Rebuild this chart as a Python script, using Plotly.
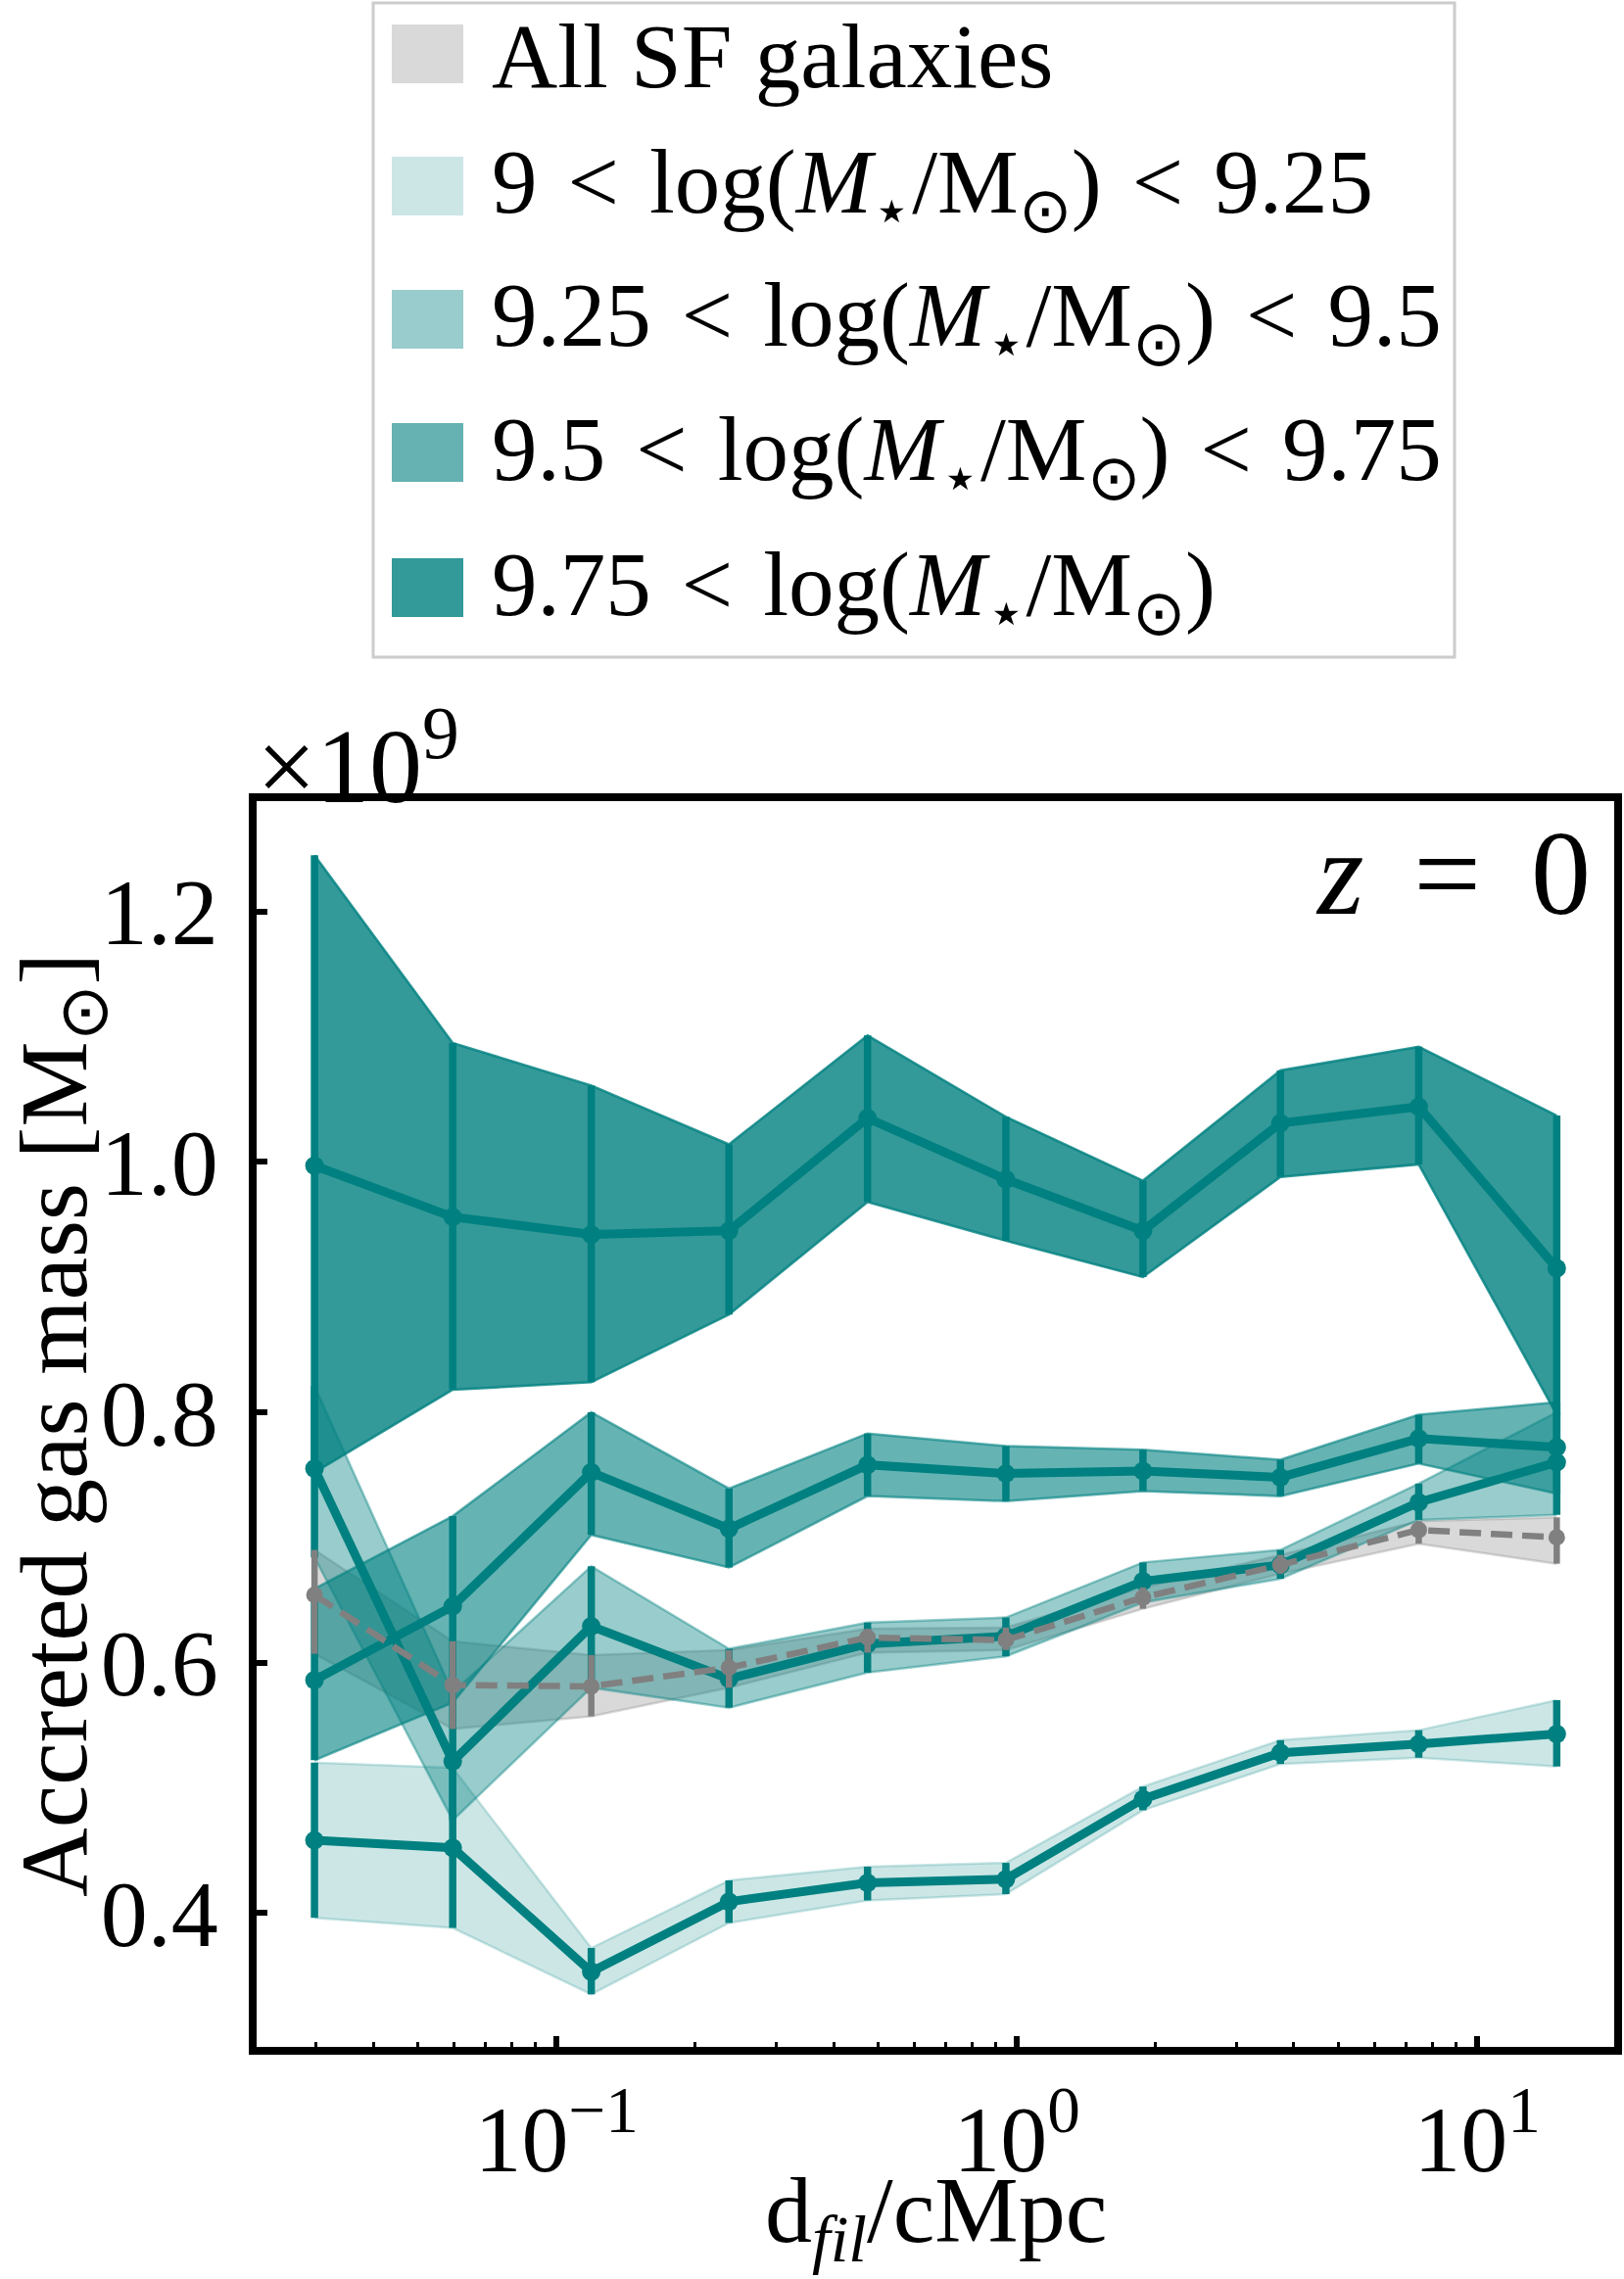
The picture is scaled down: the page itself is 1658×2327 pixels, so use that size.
import plotly.graph_objects as go

# ---------------- data ----------------
d_fil = [0.0298, 0.0595, 0.119, 0.237, 0.474, 0.947, 1.88, 3.74, 7.47, 14.9]

all_med = [0.654, 0.582, 0.581, 0.596, 0.620, 0.618, 0.652, 0.678, 0.706, 0.700]
all_up  = [0.690, 0.617, 0.606, 0.610, 0.627, 0.628, 0.660, 0.686, 0.713, 0.716]
all_lo  = [0.607, 0.547, 0.557, 0.580, 0.608, 0.610, 0.643, 0.671, 0.695, 0.679]

m900_med = [0.458, 0.452, 0.353, 0.409, 0.424, 0.427, 0.491, 0.528, 0.535, 0.543]
m900_up  = [0.520, 0.516, 0.372, 0.426, 0.437, 0.440, 0.501, 0.538, 0.546, 0.570]
m900_lo  = [0.396, 0.388, 0.335, 0.392, 0.410, 0.415, 0.482, 0.519, 0.524, 0.517]

m925_med = [0.755, 0.521, 0.629, 0.587, 0.615, 0.621, 0.665, 0.678, 0.728, 0.760]
m925_up  = [0.821, 0.576, 0.677, 0.611, 0.632, 0.636, 0.680, 0.690, 0.743, 0.800]
m925_lo  = [0.684, 0.474, 0.580, 0.564, 0.592, 0.605, 0.648, 0.667, 0.714, 0.718]

m950_med = [0.586, 0.645, 0.752, 0.707, 0.758, 0.751, 0.753, 0.748, 0.779, 0.772]
m950_up  = [0.659, 0.717, 0.800, 0.739, 0.783, 0.773, 0.770, 0.762, 0.798, 0.808]
m950_lo  = [0.522, 0.568, 0.702, 0.676, 0.733, 0.729, 0.737, 0.733, 0.759, 0.735]

m975_med = [0.997, 0.956, 0.942, 0.945, 1.035, 0.986, 0.945, 1.031, 1.044, 0.915]
m975_up  = [1.245, 1.095, 1.061, 1.014, 1.101, 1.036, 0.985, 1.073, 1.092, 1.037]
m975_lo  = [0.752, 0.818, 0.824, 0.878, 0.968, 0.937, 0.908, 0.988, 0.998, 0.798]

LT = "\u200a&lt;\u200a"
legend_labels = [
    "All SF galaxies",
    f"9 {LT} log(<i>M</i><sub>⋆</sub>/M<sub>⊙</sub>) {LT} 9.25",
    f"9.25 {LT} log(<i>M</i><sub>⋆</sub>/M<sub>⊙</sub>) {LT} 9.5",
    f"9.5 {LT} log(<i>M</i><sub>⋆</sub>/M<sub>⊙</sub>) {LT} 9.75",
    f"9.75 {LT} log(<i>M</i><sub>⋆</sub>/M<sub>⊙</sub>)",
]
legend_swatches = ["#d9d9d9", "#cce6e6", "#99cccc", "#66b2b2", "#339999"]

x_tickvals = [0.1, 1, 10]
x_ticktext = ["10<sup>−1</sup>", "10<sup>0</sup>", "10<sup>1</sup>"]
y_tickvals = [0.4, 0.6, 0.8, 1.0, 1.2]
y_ticktext = ["0.4", "0.6", "0.8", "1.0", "1.2"]

x_title = "d<sub><i>fil</i></sub>/cMpc"
y_title = "Accreted gas mass [M<sub>⊙</sub>]"

# ---------------- style ----------------
FONT = "Liberation Serif"
TEAL = "#008080"
GREY = "#808080"
W, H = 1658, 2327
L, R, T, B = 262, 10, 818, 237
PW, PH = W - L - R, H - T - B

fig = go.Figure()

bands = [
    (all_lo, all_up, "rgba(128,128,128,0.3)"),
    (m900_lo, m900_up, "rgba(0,128,128,0.2)"),
    (m925_lo, m925_up, "rgba(0,128,128,0.4)"),
    (m950_lo, m950_up, "rgba(0,128,128,0.6)"),
    (m975_lo, m975_up, "rgba(0,128,128,0.8)"),
]
for lo, up, col in bands:
    fig.add_trace(go.Scatter(x=d_fil, y=lo, mode="lines", line=dict(color=col, width=2.5),
                             showlegend=False, hoverinfo="skip"))
    fig.add_trace(go.Scatter(x=d_fil, y=up, mode="lines", line=dict(color=col, width=2.5),
                             fill="tonexty", fillcolor=col, showlegend=False, hoverinfo="skip"))

def med_trace(med, lo, up, color, dash, lw, ms, et):
    return go.Scatter(
        x=d_fil, y=med, mode="lines+markers",
        line=dict(color=color, width=lw, dash=dash),
        marker=dict(color=color, size=ms),
        error_y=dict(type="data", symmetric=False,
                     array=[u - m for u, m in zip(up, med)],
                     arrayminus=[m - l for m, l in zip(med, lo)],
                     color=color, thickness=et, width=0),
        showlegend=False,
    )

for med, lo, up in [(m900_med, m900_lo, m900_up), (m925_med, m925_lo, m925_up),
                    (m950_med, m950_lo, m950_up), (m975_med, m975_lo, m975_up)]:
    fig.add_trace(med_trace(med, lo, up, TEAL, "solid", 9, 19, 7.5))
fig.add_trace(med_trace(all_med, all_lo, all_up, GREY, "22px,10px", 6.5, 17, 6.5))

axis_common = dict(
    showline=True, linecolor="black", linewidth=8, mirror=True,
    ticks="inside", ticklen=11, tickwidth=6, tickcolor="black",
    showgrid=False, zeroline=False,
    tickfont=dict(family=FONT, size=96, color="black"),
)

fig.update_xaxes(
    type="log", range=[-1.6515, 1.298],
    tickvals=x_tickvals, ticktext=x_ticktext,
    minor=dict(ticks="inside", ticklen=5, tickwidth=3, tickcolor="black",
               tickvals=[m * 10.0 ** e for e in (-2, -1, 0, 1) for m in range(2, 10)]),
    ticklabelstandoff=4,
    **axis_common,
)
fig.update_yaxes(
    range=[0.293, 1.2882],
    tickvals=y_tickvals, ticktext=y_ticktext,
    ticklabelstandoff=12,
    **axis_common,
)

def px2paper(px, py):
    return (px - L) / PW, (H - B - py) / PH

shapes = []
annotations = []
# legend box
x0, y0 = px2paper(381, 3)
x1, y1 = px2paper(1485, 671)
shapes.append(dict(type="rect", xref="paper", yref="paper", x0=x0, y0=y1, x1=x1, y1=y0,
                   line=dict(color="#cccccc", width=3), fillcolor="white", layer="above"))
row_centers = [55, 190, 326, 462, 600]
for yc, col, lab in zip(row_centers, legend_swatches, legend_labels):
    sx0, sy0 = px2paper(400, yc - 30)
    sx1, sy1 = px2paper(473, yc + 30)
    shapes.append(dict(type="rect", xref="paper", yref="paper", x0=sx0, y0=sy1, x1=sx1, y1=sy0,
                       line=dict(width=0), fillcolor=col, layer="above"))
    tx, ty = px2paper(500, yc + 3)
    annotations.append(dict(xref="paper", yref="paper", x=tx, y=ty, xanchor="left", yanchor="middle",
                            text=lab, showarrow=False,
                            font=dict(family=FONT, size=93, color="black")))

# axis titles
ax_x, ax_y = px2paper(956, 2326)
annotations.append(dict(xref="paper", yref="paper", x=ax_x, y=ax_y, xanchor="center", yanchor="bottom",
                        text=x_title, showarrow=False,
                        font=dict(family=FONT, size=96, color="black")))
ay_x, ay_y = px2paper(62, 1455)
annotations.append(dict(xref="paper", yref="paper", x=ay_x, y=ay_y, xanchor="center", yanchor="middle",
                        text=y_title, textangle=-90, showarrow=False,
                        font=dict(family=FONT, size=98, color="black")))

annotations.append(dict(xref="paper", yref="paper", x=0, y=1, xanchor="left", yanchor="bottom",
                        xshift=-2, yshift=-26, text="×10<sup>9</sup>", showarrow=False,
                        font=dict(family=FONT, size=108, color="black")))
annotations.append(dict(xref="paper", yref="paper", x=1, y=1, xanchor="right", yanchor="top",
                        xshift=-22, yshift=-4,
                        text="<i>z</i>\u2004\u200a=\u2004\u200a0", showarrow=False,
                        font=dict(family=FONT, size=122, color="black")))

fig.update_layout(
    width=W, height=H,
    margin=dict(l=L, r=R, t=T, b=B, autoexpand=False),
    paper_bgcolor="white", plot_bgcolor="white",
    showlegend=False,
    shapes=shapes, annotations=annotations,
    font=dict(family=FONT, color="black"),
)

fig.write_html("out.html")
